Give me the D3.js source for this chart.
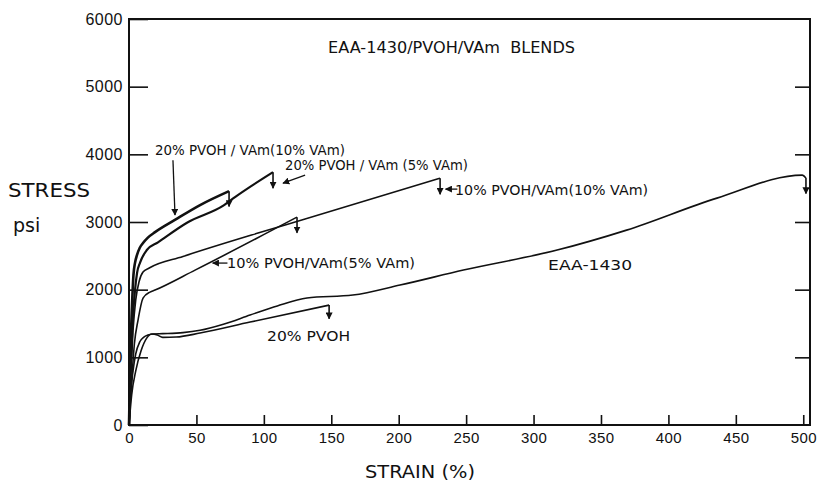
<!DOCTYPE html>
<html>
<head>
<meta charset="utf-8">
<script src="https://cdn.jsdelivr.net/npm/d3@7"></script>
<style>
  body { margin: 0; background: #fff; }
  svg { display: block; font-family: "DejaVu Sans", sans-serif; }
  .tick line { stroke: #111; stroke-width: 1.6; }
  .tick text { fill: #111; }
</style>
</head>
<body>
<div id="chart"></div>
<script>
// axis ticks
var strainTicks = [0, 50, 100, 150, 200, 250, 300, 350, 400, 450, 500];
var stressTicks = [0, 1000, 2000, 3000, 4000, 5000, 6000];

// curves: [strain %, stress psi]
var pvohVam20_10 = [[0,0],[0.5,500],[1.1,1100],[2.2,1750],[3.3,2215],[4.5,2400],[5.9,2510],[8,2620],[10.4,2690],[14,2770],[19.3,2850],[34,3030],[52.7,3250],[74.2,3456]];
var pvohVam20_5 = [[0,0],[0.6,400],[1.2,800],[2.5,1450],[4.5,2000],[6,2250],[8.2,2400],[13.4,2590],[21.5,2700],[43,2990],[70.5,3250],[78.6,3368],[106.8,3737]];
var pvohVam10_10 = [[0,0],[0.8,450],[1.5,800],[3,1400],[5,1850],[7.5,2120],[10.4,2260],[15,2320],[40,2490],[95.7,2836],[130.6,3043],[230.7,3648]];
var pvohVam10_5 = [[0,0],[1,350],[2,650],[4,1200],[6.7,1550],[10.4,1876],[15.6,1964],[19.3,1994],[49,2289],[124.6,3072]];
var eaa1430 = [[0,0],[1.2,450],[3,800],[5,1050],[8,1230],[11,1300],[14,1330],[18,1345],[25,1350],[40,1365],[52.7,1400],[70,1490],[89.8,1625],[110,1760],[132,1876],[166,1920],[201,2068],[248,2290],[317.5,2585],[369,2880],[436,3353],[499.3,3693],[502,3650]];
var pvoh20 = [[0,0],[2,450],[5,800],[9,1100],[13,1280],[17,1345],[21,1330],[25,1295],[35,1300],[52.7,1359],[89.8,1521],[148.4,1772]];

var curves = [
  { pts: pvohVam20_10, w: 2.6, drop: [74.2, 3456, 3230] },
  { pts: pvohVam20_5, w: 2.2, drop: [106.8, 3737, 3500] },
  { pts: pvohVam10_10, w: 1.6, drop: [230.7, 3648, 3410] },
  { pts: pvohVam10_5, w: 1.6, drop: [124.6, 3072, 2840] },
  { pts: eaa1430, w: 1.6, drop: [502, 3650, 3420] },
  { pts: pvoh20, w: 1.6, drop: [148.4, 1772, 1570] }
];

// curve labels: text, strain, stress (baseline), width px
var labels = [
  { t: "20% PVOH / VAm(10% VAm)", x: 19.3, y: 3988, len: 190 },
  { t: "20% PVOH / VAm (5% VAm)", x: 115.7, y: 3766, len: 183 },
  { t: "10% PVOH/VAm(10% VAm)", x: 241.8, y: 3397, len: 193 },
  { t: "10% PVOH/VAm(5% VAm)", x: 72.7, y: 2319, len: 188 },
  { t: "20% PVOH", x: 102.4, y: 1241, len: 83 },
  { t: "EAA-1430", x: 310.8, y: 2289, len: 84 }
];
// pointer arrows: [fromStrain, fromStress, toStrain, toStress]
var pointers = [
  [32.6, 3914, 34.1, 3102],
  [130.6, 3693, 114.2, 3574],
  [243.5, 3486, 234.8, 3486],
  [73, 2393, 62, 2393]
];

var W = 817, H = 482;
var svg = d3.select("#chart").append("svg").attr("width", W).attr("height", H);

var x = d3.scaleLinear().domain([0, 505]).range([129, 810]);
var y = d3.scaleLinear().domain([0, 6000]).range([425, 19]);

svg.append("defs").append("marker")
  .attr("id", "head")
  .attr("viewBox", "0 0 10 10")
  .attr("refX", 9).attr("refY", 5)
  .attr("markerWidth", 7).attr("markerHeight", 7)
  .attr("markerUnits", "userSpaceOnUse")
  .attr("orient", "auto")
  .append("path").attr("d", "M0,0 L10,5 L0,10 Z").attr("fill", "#111");

// left axis
var gl = svg.append("g").attr("transform", "translate(" + x(0) + ",0)")
  .call(d3.axisLeft(y).tickValues(stressTicks).tickFormat(d3.format("d"))
    .tickSize(-19).tickSizeOuter(0).tickPadding(6));
gl.select(".domain").remove();
gl.selectAll("text").style("font-size", "16px").attr("letter-spacing", "0.5");

// right axis (ticks only)
var gr = svg.append("g").attr("transform", "translate(810,0)")
  .call(d3.axisRight(y).tickValues([1000, 2000, 3000, 4000, 5000]).tickSize(-15).tickSizeOuter(0).tickFormat(""));
gr.select(".domain").remove();

// bottom axis
var gb = svg.append("g").attr("transform", "translate(0," + y(0) + ")")
  .call(d3.axisBottom(x).tickValues(strainTicks).tickFormat(d3.format("d"))
    .tickSize(-10).tickSizeOuter(0).tickPadding(7));
gb.select(".domain").remove();
gb.selectAll("text").style("font-size", "15px").attr("letter-spacing", "0.4");

// frame
svg.append("rect")
  .attr("x", x(0)).attr("y", y(6000))
  .attr("width", 810 - x(0)).attr("height", y(0) - y(6000))
  .attr("fill", "none").attr("stroke", "#111").attr("stroke-width", 2);

var line = d3.line().x(function(d) { return x(d[0]); }).y(function(d) { return y(d[1]); })
  .curve(d3.curveMonotoneX);

curves.forEach(function(c) {
  svg.append("path").attr("d", line(c.pts))
    .attr("fill", "none").attr("stroke", "#111").attr("stroke-width", c.w)
    .attr("stroke-linejoin", "round");
  svg.append("line")
    .attr("x1", x(c.drop[0])).attr("y1", y(c.drop[1]))
    .attr("x2", x(c.drop[0])).attr("y2", y(c.drop[2]))
    .attr("stroke", "#111").attr("stroke-width", 1.6)
    .attr("marker-end", "url(#head)");
});

pointers.forEach(function(p) {
  svg.append("line")
    .attr("x1", x(p[0])).attr("y1", y(p[1]))
    .attr("x2", x(p[2])).attr("y2", y(p[3]))
    .attr("stroke", "#111").attr("stroke-width", 1.3)
    .attr("marker-end", "url(#head)");
});

labels.forEach(function(l) {
  svg.append("text").attr("x", x(l.x)).attr("y", y(l.y))
    .attr("textLength", l.len).attr("lengthAdjust", "spacingAndGlyphs")
    .style("font-size", "14px").attr("fill", "#111").text(l.t);
});

// title and axis titles
svg.append("text").attr("x", x(147.6)).attr("y", y(5494))
  .attr("textLength", 247).attr("lengthAdjust", "spacingAndGlyphs")
  .style("font-size", "15px").attr("fill", "#111").attr("xml:space", "preserve")
  .text("EAA-1430/PVOH/VAm  BLENDS");

svg.append("text").attr("x", 8).attr("y", 197)
  .attr("textLength", 82).attr("lengthAdjust", "spacingAndGlyphs")
  .style("font-size", "19px").attr("fill", "#111").text("STRESS");
svg.append("text").attr("x", 13).attr("y", 232)
  .style("font-size", "19px").attr("fill", "#111").text("psi");

svg.append("text").attr("x", 365).attr("y", 478)
  .attr("textLength", 110).attr("lengthAdjust", "spacingAndGlyphs")
  .style("font-size", "17px").attr("fill", "#111").text("STRAIN (%)");
</script>
</body>
</html>
